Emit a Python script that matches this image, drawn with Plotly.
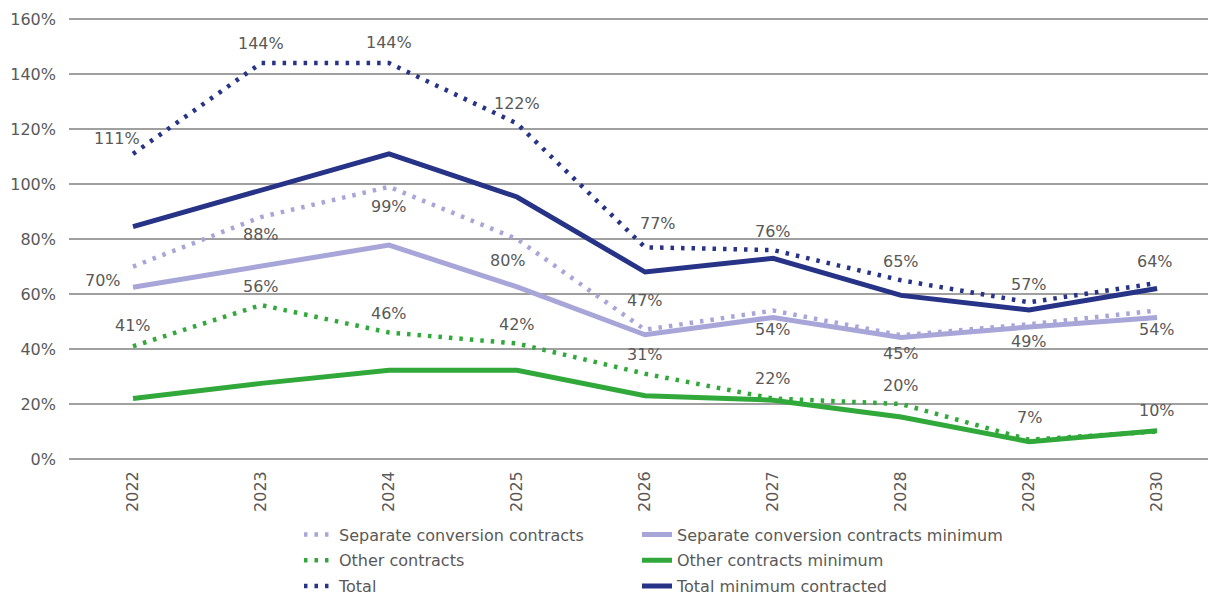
import plotly.graph_objects as go

years = ["2022", "2023", "2024", "2025", "2026", "2027", "2028", "2029", "2030"]

separate = [70, 88, 99, 80, 47, 54, 45, 49, 54]
other = [41, 56, 46, 42, 31, 22, 20, 7, 10]
total = [111, 144, 144, 122, 77, 76, 65, 57, 64]

separate_min = [62.5, 70, 77.8, 62.6, 45.2, 51.5, 44.2, 48, 51.5]
other_min = [22, 27.5, 32.3, 32.3, 23, 21.4, 15.3, 6.3, 10.3]
total_min = [84.5, 97.8, 111, 95.3, 68, 73, 59.5, 54.2, 62]

y_ticks = [0, 20, 40, 60, 80, 100, 120, 140, 160]
y_tick_text = [f"{v}%" for v in y_ticks]

DARK = "#263386"
LAV = "#a8a6d8"
GREEN = "#30a83a"
TXT = "#595959"
FONT = "DejaVu Sans"
DOT = "3.5px,7px"

fig = go.Figure()

# solid (minimum) lines drawn first, dotted on top
solid = [
    ("Separate conversion contracts minimum", separate_min, LAV, 2),
    ("Other contracts minimum", other_min, GREEN, 4),
    ("Total minimum contracted", total_min, DARK, 6),
]
dotted = [
    ("Separate conversion contracts", separate, LAV, 1),
    ("Other contracts", other, GREEN, 3),
    ("Total", total, DARK, 5),
]
for name, vals, col, rank in solid:
    fig.add_trace(go.Scatter(
        x=years, y=vals, name=name, mode="lines",
        line=dict(color=col, width=5),
        legend="legend2", legendgroup=name, legendrank=rank,
        cliponaxis=False,
    ))
for name, vals, col, rank in dotted:
    fig.add_trace(go.Scatter(
        x=years, y=vals, name=name, mode="lines",
        line=dict(color=col, width=4.5, dash=DOT),
        legend="legend", legendgroup=name, legendrank=rank,
        cliponaxis=False,
    ))

# label offsets (pixels): xshift, yshift
total_off = [(-16, 15), (0, 20), (0, 21), (0, 20), (13, 24), (0, 19), (0, 19), (0, 18), (-2, 22)]
sep_off = [(-30, -14), (0, -17), (0, -20), (-9, -21), (0, 29), (0, -19), (0, -18), (0, -17), (0, -19)]
oth_off = [(0, 21), (0, 19), (0, 19), (0, 19), (0, 19), (0, 20), (0, 19), (0, 22), (0, 21)]

for vals, offs in [(total, total_off), (separate, sep_off), (other, oth_off)]:
    for i, (v, (dx, dy)) in enumerate(zip(vals, offs)):
        fig.add_annotation(
            x=i, y=v, xref="x", yref="y", text=f"{v}%", showarrow=False,
            xshift=dx, yshift=dy, xanchor="center", yanchor="middle",
            font=dict(family=FONT, size=16, color=TXT),
        )

leg_font = dict(family=FONT, size=16, color=TXT)
fig.update_layout(
    width=1208, height=620,
    margin=dict(l=61, r=0, t=10.4, b=169.4),
    paper_bgcolor="white", plot_bgcolor="white",
    font=dict(family=FONT, size=16, color=TXT),
    showlegend=True,
    legend=dict(
        x=0.2005, xanchor="left", y=-0.1327, yanchor="top",
        orientation="v", tracegroupgap=2,
        font=leg_font, bgcolor="rgba(0,0,0,0)",
    ),
    legend2=dict(
        x=0.4952, xanchor="left", y=-0.1327, yanchor="top",
        orientation="v", tracegroupgap=2,
        font=leg_font, bgcolor="rgba(0,0,0,0)",
    ),
    xaxis=dict(
        type="category", range=[-0.5, 8.46],
        tickangle=-90, showgrid=False, showline=False, zeroline=False,
        ticks="", ticklabelstandoff=8,
        tickfont=dict(family=FONT, size=16, color=TXT),
    ),
    yaxis=dict(
        range=[0, 160.4], tickvals=y_ticks, ticktext=y_tick_text,
        showgrid=True, gridcolor="#a0a0a0", gridwidth=1.5,
        zeroline=True, zerolinecolor="#a0a0a0", zerolinewidth=1.5,
        showline=False, ticks="", ticklabelstandoff=12,
        tickfont=dict(family=FONT, size=16, color=TXT),
    ),
)

fig.write_html("out.html")
